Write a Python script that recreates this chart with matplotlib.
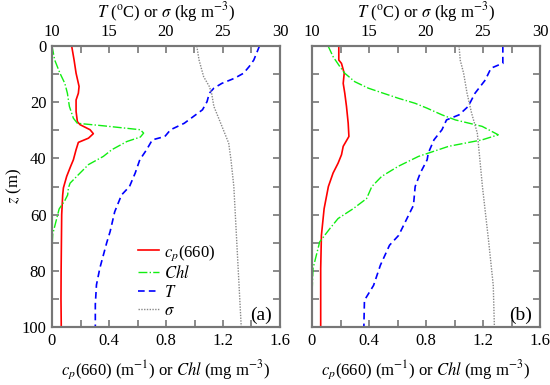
import matplotlib
matplotlib.use('Agg')
import matplotlib.pyplot as plt
from matplotlib.ticker import MultipleLocator
from matplotlib.lines import Line2D

plt.rcParams['font.family'] = ['Liberation Serif', 'DejaVu Serif']
plt.rcParams['mathtext.fontset'] = 'stix'

# ---- data, panel (a) ----
cp_a_z = [0, 5, 9.7, 14.4, 16.8, 19.2, 23.3, 26.9, 28, 29.8, 31.2, 32.8, 34.3, 36.9,
          40.5, 42.8, 46.4, 50.5, 53, 60, 70, 80, 90, 100]
cp_a = [0.138, 0.155, 0.169, 0.19, 0.185, 0.169, 0.169, 0.178, 0.197, 0.267, 0.29,
        0.256, 0.185, 0.169, 0.15, 0.131, 0.103, 0.08, 0.075, 0.068, 0.066, 0.064,
        0.063, 0.065]
chl_a_z = [0, 5, 9.7, 13.3, 16.8, 21.5, 25.7, 27.5, 28.4, 29.8, 31, 32.4, 34, 36.9,
           39.3, 42.2, 45.2, 48.8, 50.5, 53, 55, 58, 60, 67, 72, 100]
chl_a = [0, 0.019, 0.056, 0.09, 0.108, 0.122, 0.15, 0.178, 0.36, 0.62, 0.643, 0.62,
         0.525, 0.42, 0.36, 0.256, 0.197, 0.127, 0.115, 0.11, 0.09, 0.05, 0.04,
         0.005, 0, 0]
T_a_z = [0, 5, 7.3, 9.7, 11.5, 13.3, 15, 16.8, 19.8, 22.7, 25.1, 27.5, 29.8, 32.2,
         33.4, 36.9, 40.5, 45.2, 50, 53, 59, 66, 70, 79, 85, 92, 100]
T_a = [28.2, 27.7, 27.3, 26.8, 26.0, 24.9, 24.2, 23.8, 23.6, 23.2, 22.4, 21.6, 20.4,
       19.9, 18.8, 18.3, 17.7, 17.3, 16.8, 16.1, 15.5, 15.1, 14.8, 14.2, 13.9, 13.8,
       13.8]
sig_a_z = [0, 5, 10.9, 14.4, 16.8, 21.5, 27.5, 34.6, 40.5, 50, 73, 100]
sig_a = [22.7, 22.9, 23.3, 23.8, 24.0, 24.2, 24.8, 25.5, 25.7, 25.95, 26.25, 26.6]

# ---- data, panel (b) ----
cp_b_z = [0, 5, 6.2, 9.7, 13.3, 16.8, 21.5, 27.5, 32.2, 35.7, 38.7, 41.7, 45.2, 50,
          57.9, 67.4, 79.2, 100]
cp_b = [0.188, 0.188, 0.207, 0.226, 0.219, 0.23, 0.242, 0.254, 0.259, 0.219, 0.207,
        0.183, 0.148, 0.115, 0.085, 0.066, 0.061, 0.061]
chl_b_z = [0, 3.8, 7.3, 9.7, 12.7, 15, 16.8, 18.6, 20.4, 22.1, 24.5, 26.3, 28.6,
           31.6, 33.4, 35.7, 39.3, 42.8, 46.4, 50, 54.3, 57.9, 61.4, 65, 69.7, 79.2,
           88.7, 100]
chl_b = [0.113, 0.148, 0.195, 0.23, 0.30, 0.395, 0.50, 0.606, 0.724, 0.806, 0.912,
         1.006, 1.194, 1.307, 1.194, 0.959, 0.747, 0.606, 0.489, 0.42, 0.383, 0.289,
         0.183, 0.125, 0.054, 0.007, 0, 0]
T_b_z = [0, 6.2, 6.7, 7.9, 12.1, 16.8, 21.5, 24.5, 26.3, 29.8, 33.4, 38.1, 40.5, 45.2,
         50, 56.7, 67.4, 70.9, 78, 85.2, 90.5, 100]
T_b = [26.74, 26.74, 26.4, 25.7, 25.2, 24.3, 23.7, 22.9, 21.8, 21.4, 20.7, 20.2, 20.1,
       19.5, 19.05, 18.9, 17.6, 16.8, 16.0, 15.4, 14.6, 14.55]
sig_b_z = [0, 5, 9.7, 16.8, 23.9, 31, 39.3, 50, 69.7, 85.2, 100]
sig_b = [22.9, 23.0, 23.3, 23.6, 24.0, 24.5, 24.7, 24.95, 25.5, 25.9, 26.0]

panels = [
    ('(a)', cp_a_z, cp_a, chl_a_z, chl_a, T_a_z, T_a, sig_a_z, sig_a),
    ('(b)', cp_b_z, cp_b, chl_b_z, chl_b, T_b_z, T_b, sig_b_z, sig_b),
]

RED, GREEN, BLUE, GREY = '#ff0000', '#11ee11', '#0000ff', '#888888'
spine_col = '#777777'
blue_ls = (0, (4, 2.5))
grey_ls = (0, (1, 1))

fig = plt.figure(figsize=(5.5, 3.85), dpi=100)
lefts = [52 / 550, 312 / 550]
width = 228 / 550
bottom = 1 - 327 / 385
height = 281 / 385

xlab = r'$c_p$(660) (m$^{-1}$) or $Chl$ (mg m$^{-3}$)'
toplab = r'$T$ ($^{\rm o}$C) or $\sigma$ (kg m$^{-3}$)'

for i, (tag, cz, cp, hz, chl, tz, T, sz, sig) in enumerate(panels):
    ax = fig.add_axes([lefts[i], bottom, width, height])
    ax.plot(cp, cz, color=RED, lw=1.2)
    ax.plot(chl, hz, color=GREEN, lw=1.0, ls='-.')
    ax.set_xlim(0, 1.6)
    ax.set_ylim(100, 0)
    ax.set_xticks([0, 0.4, 0.8, 1.2, 1.6])
    ax.set_xticklabels(['0', '0.4', '0.8', '1.2', '1.6'])
    ax.xaxis.set_minor_locator(MultipleLocator(0.2))
    ax.yaxis.set_major_locator(MultipleLocator(20))
    ax.yaxis.set_minor_locator(MultipleLocator(10))
    ax.set_xlabel(xlab, fontsize=12, labelpad=7)
    if i == 0:
        ax.set_ylabel(r'$z$ (m)', fontsize=12)
        ax.yaxis.set_label_coords(-0.125, 0.5)
    else:
        ax.set_yticklabels([])
    ax.tick_params(which='both', direction='in', length=5, width=1.2,
                   color=spine_col, labelsize=12, right=True, pad=4)
    for s in ax.spines.values():
        s.set_color(spine_col)
        s.set_linewidth(1.5)

    ax2 = ax.twiny()
    ax2.plot(T, tz, color=BLUE, lw=1.2, ls=blue_ls)
    ax2.plot(sig, sz, color=GREY, lw=1.0, ls=grey_ls)
    ax2.set_xlim(10, 30)
    ax2.set_ylim(100, 0)
    ax2.xaxis.set_major_locator(MultipleLocator(5))
    ax2.xaxis.set_minor_locator(MultipleLocator(2.5))
    ax2.set_xlabel(toplab, fontsize=12, labelpad=5)
    ax2.tick_params(which='both', direction='in', length=5, width=1.2,
                    color=spine_col, labelsize=12, pad=4)
    for s in ax2.spines.values():
        s.set_color(spine_col)
        s.set_linewidth(1.5)

    ax.text(0.965, 0.012, tag, transform=ax.transAxes, ha='right', va='bottom',
            fontsize=14)

    if i == 0:
        handles = [Line2D([], [], color=RED, lw=1.2),
                   Line2D([], [], color=GREEN, lw=1.0, ls='-.'),
                   Line2D([], [], color=BLUE, lw=1.2, ls=blue_ls),
                   Line2D([], [], color=GREY, lw=1.0, ls=grey_ls)]
        labels = [r'$c_p$(660)', r'$Chl$', r'$T$', r'$\sigma$']
        ax.legend(handles, labels, loc='lower left', bbox_to_anchor=(0.31, -0.025),
                  frameon=False, fontsize=12, handlelength=1.25,
                  handletextpad=0.3, labelspacing=0.15)

fig.savefig('out.png', dpi=100)
